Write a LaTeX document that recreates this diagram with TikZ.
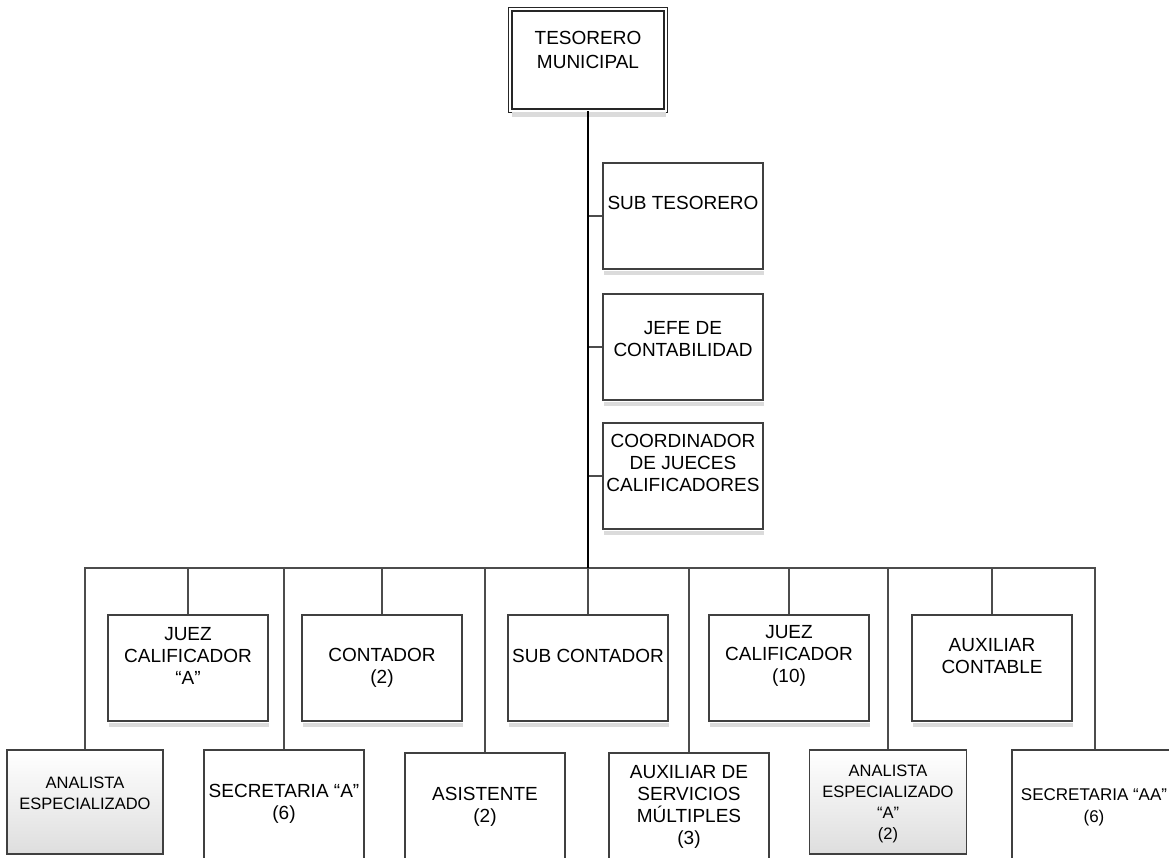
\documentclass[tikz,border=0pt]{standalone}
\usepackage{fontspec}
\setmainfont{Liberation Sans}
\begin{document}
\begin{tikzpicture}[x=1pt,y=-1pt,
  box/.style={draw=black!75, line width=1.4pt, fill=white, inner sep=0pt,
    minimum width=160pt, minimum height=106pt},
  graybox/.style={box, top color=white, bottom color=black!13},
  headbox/.style={draw=black!85, line width=1.2pt, double=white, double distance=2.3pt,
    fill=white, inner sep=0pt, minimum width=155.5pt, minimum height=101.5pt},
  lbl/.style={align=center, inner sep=0pt, font=\fontsize{19}{22}\selectfont},
  lblsmall/.style={align=center, inner sep=0pt, font=\fontsize{16.5}{21}\selectfont},
  lblmid/.style={align=center, inner sep=0pt, font=\fontsize{17}{22}\selectfont},
  link/.style={draw=black!70, line width=1.4pt},
  trunk/.style={draw=black, line width=2.2pt},
  shadowfill/.style={fill=black!14, draw=none}
]
\useasboundingbox (0,0) rectangle (1169,857);
\clip (0,0) rectangle (1169,857);

% head of the department
\node[headbox] (tes) at (588,60) {};
\node[lbl, font=\fontsize{19}{24}\selectfont] (tes-t) at (588,50) {TESORERO\\MUNICIPAL};

% staff positions beside the trunk
\node[box] (sub)  at (683,216) {};
\node[box] (jefe) at (683,347) {};
\node[box] (coor) at (683,476) {};
\node[lbl] (sub-t)  at (683,203) {SUB TESORERO};
\node[lbl] (jefe-t) at (683,339) {JEFE DE\\CONTABILIDAD};
\node[lbl] (coor-t) at (683,463) {COORDINADOR\\DE JUECES\\CALIFICADORES};

% upper row of subordinates
\node[box] (juezA) at (188,668) {};
\node[box] (cont)  at (382,668) {};
\node[box] (subc)  at (588,668) {};
\node[box] (juez10) at (789,668) {};
\node[box] (auxc)  at (992,668) {};
\node[lbl] (juezA-t)  at (188,656) {JUEZ\\CALIFICADOR\\“A”};
\node[lbl] (cont-t)   at (382,668) {CONTADOR\\(2)};
\node[lbl] (subc-t)   at (588,656) {SUB CONTADOR};
\node[lbl] (juez10-t) at (789,656) {JUEZ\\CALIFICADOR\\(10)};
\node[lbl] (auxc-t)   at (992,656) {AUXILIAR\\CONTABLE};

% lower row of subordinates
\node[graybox, minimum width=156pt, minimum height=104pt] (anal) at (85,802) {};
\node[box, minimum height=120pt] (secA) at (284,810) {};
\node[box, minimum height=120pt] (asis) at (485,813) {};
\node[box, minimum height=120pt] (auxs) at (689,813) {};
\node[graybox, minimum width=157pt, minimum height=104pt] (analA) at (888,802) {};
\node[box, minimum width=166pt, minimum height=120pt] (secAA) at (1095,810) {};
\node[lblsmall] (anal-t)  at (85,793) {ANALISTA\\ESPECIALIZADO};
\node[lbl]      (secA-t)  at (284,804) {SECRETARIA “A”\\(6)};
\node[lbl]      (asis-t)  at (485,807) {ASISTENTE\\(2)};
\node[lbl]      (auxs-t)  at (689,807) {AUXILIAR DE\\SERVICIOS\\MÚLTIPLES\\(3)};
\node[lblsmall] (analA-t) at (888,804) {ANALISTA\\ESPECIALIZADO\\“A”\\(2)};
\node[lblmid]   (secAA-t) at (1094,807) {SECRETARIA “AA”\\(6)};

% shadows under the boxes
\foreach \b in {tes,sub,jefe,coor,juezA,cont,subc,juez10,auxc}
  \fill[shadowfill] ([xshift=2pt,yshift=-0.8pt]\b.south west) rectangle ([yshift=-5.5pt]\b.south east);

% connectors
\coordinate (bus) at (588,568);
\foreach \b in {sub,jefe,coor}
  \draw[link] (\b.west -| tes.south) -- (\b.west);
\foreach \b in {anal,juezA,secA,cont,asis,subc,auxs,juez10,analA,auxc,secAA}
  \draw[link] (bus) -| (\b.north);
\draw[trunk] (tes.south) -- (bus);
\end{tikzpicture}
\end{document}
